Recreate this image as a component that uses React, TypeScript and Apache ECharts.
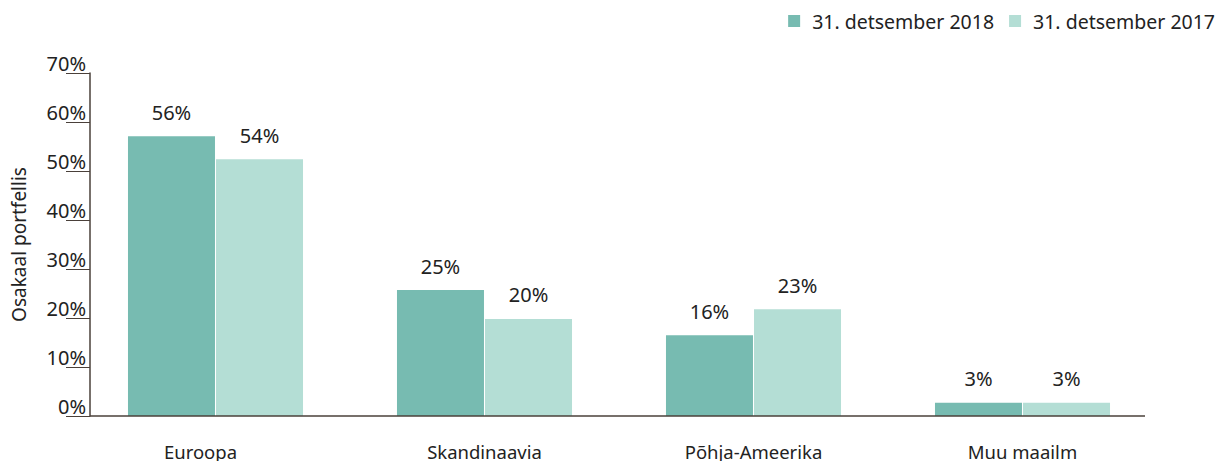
import React, { useEffect, useRef } from "react";
import * as echarts from "echarts";

const categories = ["Euroopa", "Skandinaavia", "Põhja-Ameerika", "Muu maailm"];
const seriesNames = ["31. detsember 2018", "31. detsember 2017"];
const values2018 = [57.1, 25.7, 16.5, 2.7];
const values2017 = [52.4, 19.8, 21.8, 2.7];
const labels2018 = ["56%", "25%", "16%", "3%"];
const labels2017 = ["54%", "20%", "23%", "3%"];
const colors = ["#77BBB1", "#B4DED5"];
const font = "'Noto Sans', 'Open Sans', sans-serif";

export default function App() {
  const ref = useRef<HTMLDivElement>(null);
  useEffect(() => {
    const chart = echarts.init(ref.current!, null, { renderer: "svg" });
    const mkLabel = (labels: string[]) => ({
      show: true,
      position: "top",
      distance: 14,
      fontFamily: font,
      fontSize: 20,
      color: "#222",
      formatter: (p: any) => labels[p.dataIndex],
    });
    const catData = categories.map((c, i) =>
      i === 0 ? { value: c, textStyle: { padding: [0, 30, 0, 0] } } : c
    );
    chart.setOption({
      animation: false,
      textStyle: { fontFamily: font },
      legend: {
        right: 4,
        top: 11,
        padding: 0,
        itemWidth: 12,
        itemHeight: 12,
        itemGap: 15,
        icon: "rect",
        textStyle: {
          fontSize: 19.5,
          color: "#222",
          fontFamily: font,
          padding: [0, 0, 0, 7],
        },
        data: seriesNames,
      },
      grid: { left: 81, right: 62, top: 73, bottom: 45 },
      xAxis: {
        type: "category",
        data: catData,
        axisLine: { show: false },
        axisTick: { show: false },
        axisLabel: { margin: 26, fontSize: 18.5, color: "#222", fontFamily: font },
      },
      yAxis: {
        type: "value",
        min: 0,
        max: 70,
        interval: 10,
        offset: -9,
        name: "Osakaal portfellis",
        nameLocation: "middle",
        nameGap: 62,
        nameTextStyle: { fontSize: 19, color: "#222", fontFamily: font },
        axisLine: { show: true, lineStyle: { color: "#4a403a", width: 1.5 } },
        axisTick: { show: true, length: 24, lineStyle: { color: "#4a403a" } },
        axisLabel: {
          formatter: "{value}%",
          margin: 4,
          verticalAlign: "bottom",
          fontSize: 20,
          color: "#222",
          fontFamily: font,
        },
        splitLine: { show: false },
      },
      series: [
        {
          name: seriesNames[0],
          type: "bar",
          data: values2018,
          barWidth: 87,
          barGap: "1.2%",
          itemStyle: { color: colors[0] },
          label: mkLabel(labels2018),
        },
        {
          name: seriesNames[1],
          type: "bar",
          data: values2017,
          barWidth: 87,
          itemStyle: { color: colors[1] },
          label: mkLabel(labels2017),
        },
      ],
      graphic: [
        {
          type: "line",
          shape: { x1: 90, y1: 416, x2: 1145, y2: 416 },
          style: { stroke: "#4a403a", lineWidth: 1.5 },
          z: 10,
        },
      ],
    });
    return () => chart.dispose();
  }, []);
  return (
    <div
      ref={ref}
      style={{ position: "absolute", left: 0, top: 0, width: 1219, height: 461 }}
    />
  );
}
